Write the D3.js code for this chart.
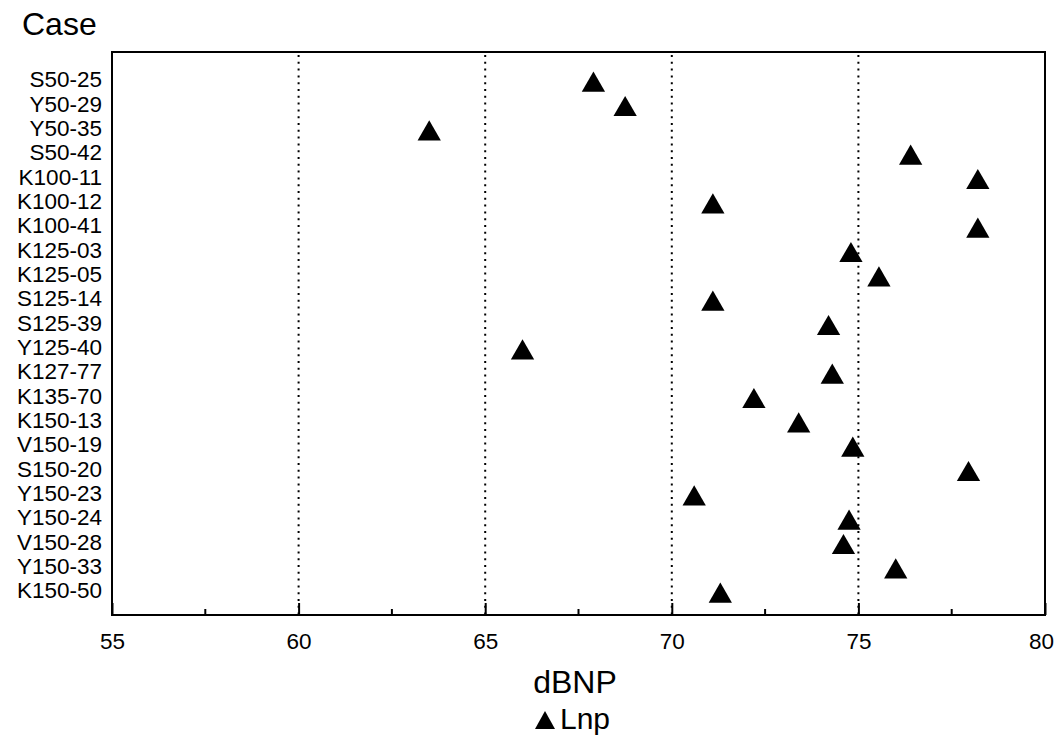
<!DOCTYPE html>
<html>
<head>
<meta charset="utf-8">
<script src="https://cdn.jsdelivr.net/npm/d3@7"></script>
<style>
  body { margin: 0; background: #fff; }
  svg { display: block; font-family: "Liberation Sans", Arial, Helvetica, sans-serif; }
</style>
</head>
<body>
<script>
var width = 1056,
    height = 754;

// data
var cases = ["S50-25", "Y50-29", "Y50-35", "S50-42", "K100-11", "K100-12", "K100-41",
    "K125-03", "K125-05", "S125-14", "S125-39", "Y125-40", "K127-77", "K135-70",
    "K150-13", "V150-19", "S150-20", "Y150-23", "Y150-24", "V150-28", "Y150-33", "K150-50"];
var lnp = [67.9, 68.75, 63.5, 76.4, 78.2, 71.1, 78.2,
    74.8, 75.55, 71.1, 74.2, 66.0, 74.3, 72.2,
    73.4, 74.85, 77.95, 70.6, 74.75, 74.6, 76.0, 71.3];
var majorTicks = [55, 60, 65, 70, 75, 80];
var minorTicks = [57.5, 62.5, 67.5, 72.5, 77.5];
var gridTicks = [60, 65, 70, 75];

var plotLeft = 112, plotRight = 1045, plotTop = 52, plotBottom = 615;
var fontStack = '"Liberation Sans", Arial, Helvetica, sans-serif';

var x = d3.scaleLinear().domain([55, 80]).range([plotLeft, plotRight]);
var y = d3.scalePoint().domain(cases).range([82, 593]);

var svg = d3.select("body").append("svg")
    .attr("width", width)
    .attr("height", height);

// dotted grid lines
svg.append("g")
    .selectAll("line")
    .data(gridTicks)
    .join("line")
    .attr("x1", function (d) { return x(d); })
    .attr("x2", function (d) { return x(d); })
    .attr("y1", plotTop + 3)
    .attr("y2", plotBottom)
    .attr("stroke", "#000")
    .attr("stroke-width", 2)
    .attr("stroke-dasharray", "2,4.8");

// frame
svg.append("rect")
    .attr("x", plotLeft)
    .attr("y", plotTop)
    .attr("width", plotRight - plotLeft)
    .attr("height", plotBottom - plotTop)
    .attr("fill", "none")
    .attr("stroke", "#000")
    .attr("stroke-width", 2);

// x axis: inner ticks, labels below
var xAxis = svg.append("g")
    .attr("transform", "translate(0," + plotBottom + ")")
    .call(d3.axisBottom(x).tickValues(majorTicks).tickSize(-12).tickPadding(18).tickFormat(d3.format("d")));
xAxis.attr("font-family", fontStack).attr("font-size", 22.5);
xAxis.select(".domain").remove();
xAxis.selectAll(".tick line").attr("stroke-width", 2);
xAxis.selectAll("text").attr("fill", "#000")
    .attr("dx", function (d) { return d === 80 ? -4 : 0; });

svg.append("g")
    .selectAll("line")
    .data(minorTicks)
    .join("line")
    .attr("x1", function (d) { return x(d); })
    .attr("x2", function (d) { return x(d); })
    .attr("y1", plotBottom)
    .attr("y2", plotBottom - 6)
    .attr("stroke", "#000")
    .attr("stroke-width", 2);

// y axis labels
var yAxis = svg.append("g")
    .attr("transform", "translate(" + (plotLeft - 10) + ",0)")
    .call(d3.axisLeft(y).tickSize(0).tickPadding(0));
yAxis.attr("font-family", fontStack).attr("font-size", 22.5);
yAxis.select(".domain").remove();
yAxis.selectAll("text")
    .attr("fill", "#000")
    .attr("dy", "0.22em");

// markers
svg.append("g")
    .selectAll("path")
    .data(cases)
    .join("path")
    .attr("d", d3.symbol().type(d3.symbolTriangle).size(235))
    .attr("transform", function (d, i) {
        return "translate(" + x(lnp[i]) + "," + (y(d) + 3) + ")";
    })
    .attr("fill", "#000");

// titles
svg.append("text")
    .attr("x", 22)
    .attr("y", 35)
    .style("font-size", "32px")
    .text("Case");

svg.append("text")
    .attr("x", 575)
    .attr("y", 693)
    .attr("text-anchor", "middle")
    .style("font-size", "32px")
    .text("dBNP");

// legend
var legend = svg.append("g").attr("transform", "translate(535,729)");
legend.append("path")
    .attr("d", "M0,0L20,0L10,-18Z")
    .attr("fill", "#000");
legend.append("text")
    .attr("x", 25)
    .attr("y", 0)
    .style("font-size", "30px")
    .text("Lnp");
</script>
</body>
</html>
